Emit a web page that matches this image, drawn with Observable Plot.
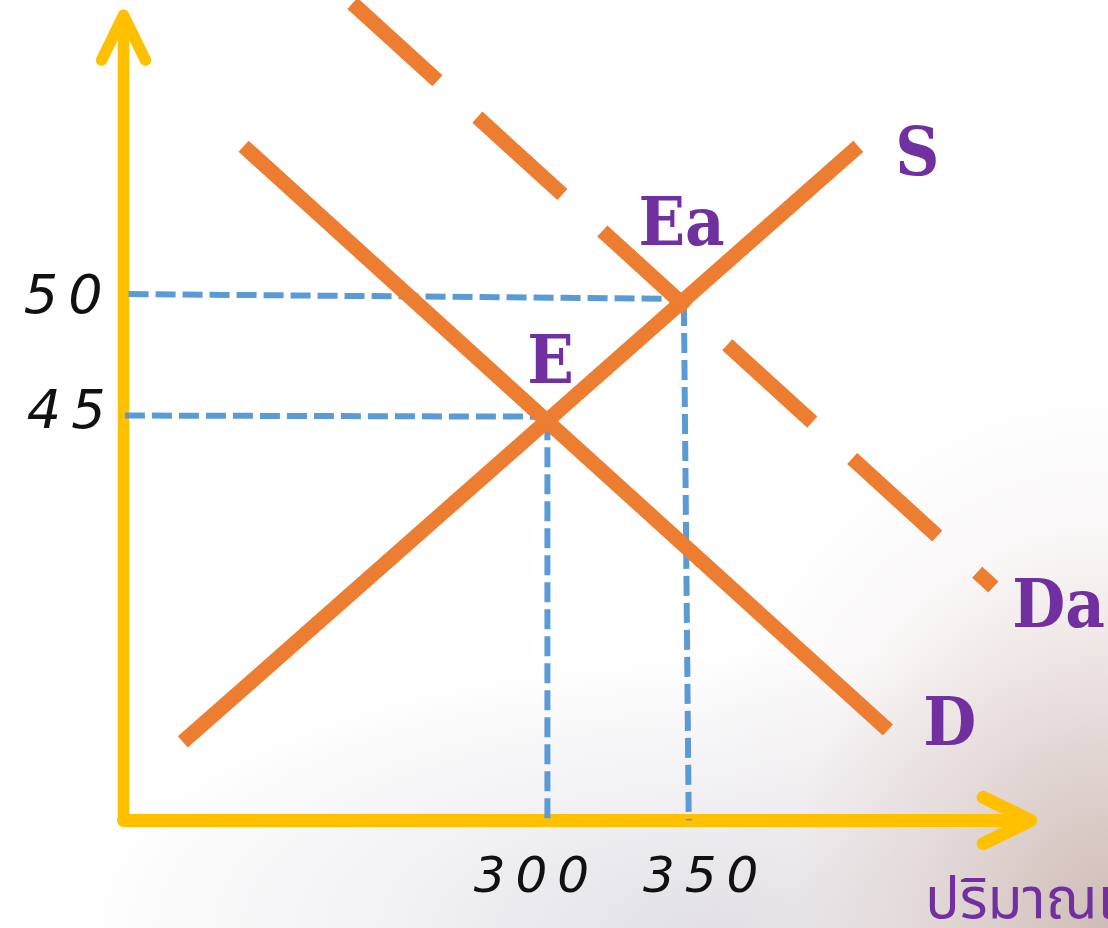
<!DOCTYPE html>
<html>
<head>
<meta charset="utf-8">
<script src="https://cdn.jsdelivr.net/npm/d3@7"></script>
<script src="https://cdn.jsdelivr.net/npm/@observablehq/plot@0.6"></script>
<style>
  html, body { margin: 0; padding: 0; width: 1108px; height: 928px; overflow: hidden; }
  body {
    background:
      radial-gradient(ellipse 40% 60% at 100% 100%, rgba(208,188,182,1) 0%, rgba(222,208,205,0.7) 40%, rgba(240,232,232,0.3) 72%, rgba(255,255,255,0) 100%),
      radial-gradient(ellipse 60% 30% at 66% 100%, rgba(224,223,229,1) 0%, rgba(232,231,236,0.65) 45%, rgba(255,255,255,0) 100%),
      #ffffff;
  }
  #chart svg { display: block; }
</style>
</head>
<body>
<div id="chart"></div>
<script>
// ---- data (quantity q, price p) ----
const xTicks = [300, 350];
const yTicks = [45, 50];

const supply  = [{q: 171, p: 31.3}, {q: 410, p: 56.3}];
const demand  = [{q: 192.5, p: 56.3}, {q: 420.5, p: 31.8}];
const demandA = [{q: 231, p: 62.3}, {q: 457.8, p: 37.8}];

// dashed guide lines from the equilibria to the axes
const guidesH = [
  {q1: 150.5, p1: 45.0, q2: 300, p2: 44.95},
  {q1: 151.8, p1: 50.1, q2: 346, p2: 49.9}
];
const guidesV = [
  {q1: 300, p1: 44.8, q2: 300, p2: 28},
  {q1: 348.3, p1: 49.6, q2: 350, p2: 28}
];

const curveLabels = [
  {text: "S",  q: 423.1, p: 55.08},
  {text: "Ea", q: 332.2, p: 52.14},
  {text: "E",  q: 292.9, p: 46.35},
  {text: "Da", q: 464.5, p: 36.14},
  {text: "D",  q: 433.0, p: 31.15}
];
const xLabel = [{text: "ปริมาณเ", q: 433.7, p: 23.9}];

const origin = {q: 150, p: 28};
const axisEnd = {q: 471, p: 61.8};

// ---- styles ----
const ORANGE = "#ED7D31", YELLOW = "#FFC000", BLUE = "#5B9BD5", PURPLE = "#7030A0";
const labelFont = "'DejaVu Serif Condensed', 'DejaVu Serif', serif";
const tickFont = "'DejaVu Sans', sans-serif";
const thaiFont = "'Noto Sans Thai', 'Noto Sans Thai Looped', 'Noto Serif Thai', Loma, Garuda, 'Noto Sans', sans-serif";

const tickText = {tickSize: 0, fontSize: 50, fontFamily: tickFont, fontWeight: 200, fontStyle: "italic", color: "#111", label: null};

const chart = Plot.plot({
  width: 1108,
  height: 928,
  marginLeft: 123,
  marginRight: 75,
  marginTop: 10,
  marginBottom: 108,
  x: {domain: [150, 472]},
  y: {domain: [28, 62]},
  style: {background: "transparent", overflow: "hidden"},
  marks: [
    // axes (shaft + open arrow head)
    Plot.arrow([{x1: origin.q, y1: origin.p, x2: origin.q, y2: axisEnd.p}], {
      x1: "x1", y1: "y1", x2: "x2", y2: "y2", stroke: YELLOW, strokeWidth: 11.5,
      headLength: 6.5, headAngle: 52, strokeLinecap: "round", strokeLinejoin: "round"
    }),
    Plot.arrow([{x1: origin.q, y1: origin.p, x2: axisEnd.q, y2: origin.p}], {
      x1: "x1", y1: "y1", x2: "x2", y2: "y2", stroke: YELLOW, strokeWidth: 13,
      headLength: 6.1, headAngle: 52, strokeLinecap: "round", strokeLinejoin: "round"
    }),
    // square off the corner where the axes meet
    Plot.ruleY([origin], {y: "p", x1: origin.q, x2: origin.q + 10, stroke: YELLOW, strokeWidth: 13}),
    // tick labels
    Plot.axisX([xTicks[0]], {...tickText, tickPadding: 35.5, dx: -11}),
    Plot.axisX([xTicks[1]], {...tickText, tickPadding: 35.5, dx: 17}),
    Plot.axisY([yTicks[0]], {...tickText, fontSize: 54, tickPadding: 11, dx: 3, dy: -5}),
    Plot.axisY([yTicks[1]], {...tickText, fontSize: 54, tickPadding: 11, dx: 0, dy: -1}),
    // dashed guides
    Plot.link(guidesH, {x1: "q1", y1: "p1", x2: "q2", y2: "p2", stroke: BLUE, strokeWidth: 6, strokeDasharray: "20,7"}),
    Plot.link(guidesV, {x1: "q1", y1: "p1", x2: "q2", y2: "p2", stroke: BLUE, strokeWidth: 6, strokeDasharray: "20,7"}),
    // curves
    Plot.line(supply, {x: "q", y: "p", stroke: ORANGE, strokeWidth: 15, strokeLinecap: "butt"}),
    Plot.line(demand, {x: "q", y: "p", stroke: ORANGE, strokeWidth: 15, strokeLinecap: "butt"}),
    Plot.line(demandA, {x: "q", y: "p", stroke: ORANGE, strokeWidth: 15, strokeLinecap: "butt", strokeDasharray: "115,54"}),
    // labels
    Plot.text(curveLabels, {x: "q", y: "p", text: "text", fill: PURPLE, fontSize: 68, fontWeight: "bold",
      fontFamily: labelFont, textAnchor: "start", lineAnchor: "bottom", ariaLabel: "curve label"}),
    Plot.text(xLabel, {x: "q", y: "p", text: "text", fill: PURPLE, fontSize: 57,
      fontFamily: thaiFont, textAnchor: "start", lineAnchor: "bottom"})
  ]
});

d3.select(chart).selectAll('[aria-label="x-axis tick label"] text, [aria-label="y-axis tick label"] text')
  .style("letter-spacing", "10px");
d3.select(chart).selectAll('[aria-label="curve label"] text')
  .style("font-stretch", "condensed");

document.getElementById("chart").appendChild(chart);
</script>
</body>
</html>
